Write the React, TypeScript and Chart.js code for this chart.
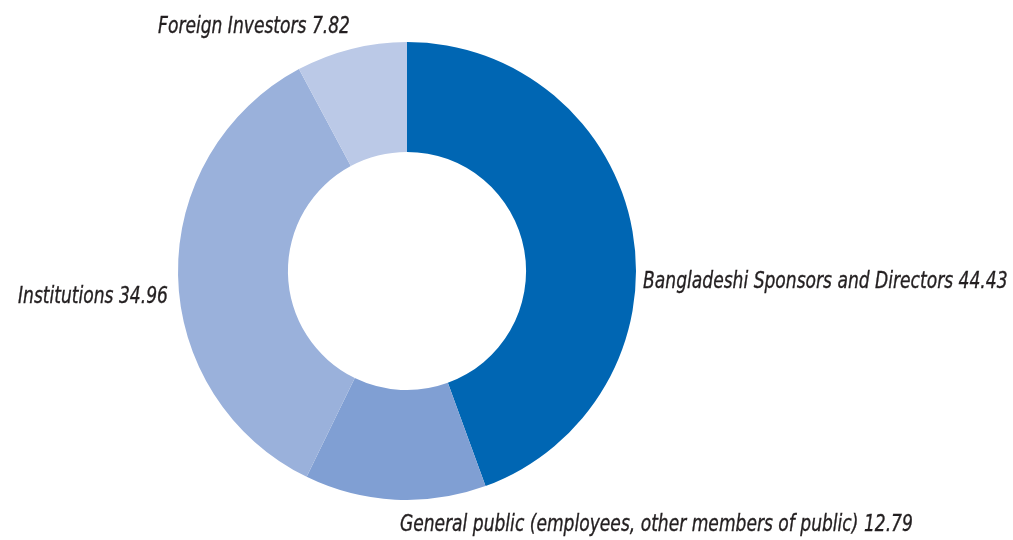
import React, { useEffect, useRef } from "react";
import { Chart, registerables } from "chart.js";

Chart.register(...registerables);

const categories = [
  "Bangladeshi Sponsors and Directors",
  "General public (employees, other members of public)",
  "Institutions",
  "Foreign Investors",
];
const shares = [44.43, 12.79, 34.96, 7.82];
const valueLabels = ["44.43", "12.79", "34.96", "7.82"];
const colors = ["#0066b3", "#809fd3", "#9ab1db", "#bbc9e7"];

// label anchors relative to the doughnut centre, in units of outer radius
const anchors: { dx: number; dy: number; align: CanvasTextAlign }[] = [
  { dx: 1.031, dy: 0.048, align: "left" },
  { dx: -0.031, dy: 1.109, align: "left" },
  { dx: -1.044, dy: 0.114, align: "right" },
  { dx: -0.249, dy: -1.066, align: "right" },
];

const labelPlugin = {
  id: "sliceLabels",
  afterDraw(chart: any) {
    const meta = chart.getDatasetMeta(0);
    const ctx = chart.ctx;
    ctx.save();
    ctx.font = "italic 23px 'DejaVu Sans Condensed', 'DejaVu Sans', sans-serif";
    ctx.fillStyle = "#231f20";
    ctx.strokeStyle = "#231f20";
    ctx.lineWidth = 0.35;
    ctx.textBaseline = "middle";
    const texts = categories.map((c, i) => `${c} ${valueLabels[i]}`);
    // condense glyphs horizontally so the longest label spans ~2.24 outer radii
    const r0 = meta.data[0].outerRadius;
    const scaleX = (2.24 * r0) / ctx.measureText(texts[1]).width;
    meta.data.forEach((arc: any, i: number) => {
      const { x, y, outerRadius } = arc.getProps(["x", "y", "outerRadius"], true);
      const a = anchors[i];
      ctx.save();
      ctx.translate(x + a.dx * outerRadius, y + a.dy * outerRadius);
      ctx.scale(scaleX, 1);
      ctx.textAlign = a.align;
      ctx.fillText(texts[i], 0, 0);
      ctx.strokeText(texts[i], 0, 0);
      ctx.restore();
    });
    ctx.restore();
  },
};

export default function App() {
  const ref = useRef<HTMLCanvasElement>(null);
  useEffect(() => {
    if (!ref.current) return;
    const chart = new Chart(ref.current, {
      type: "doughnut",
      data: {
        labels: categories,
        datasets: [
          {
            data: shares,
            backgroundColor: colors,
            borderWidth: 0,
          },
        ],
      },
      options: {
        animation: false,
        responsive: true,
        maintainAspectRatio: false,
        cutout: "52%",
        layout: { padding: { top: 42, bottom: 40, left: 178, right: 377 } },
        plugins: {
          legend: { display: false },
          tooltip: { enabled: false },
        },
      },
      plugins: [labelPlugin],
    });
    return () => chart.destroy();
  }, []);
  return (
    <div style={{ position: "absolute", left: 0, top: 0, width: 1013, height: 540, background: "#fff" }}>
      <canvas ref={ref} />
    </div>
  );
}
